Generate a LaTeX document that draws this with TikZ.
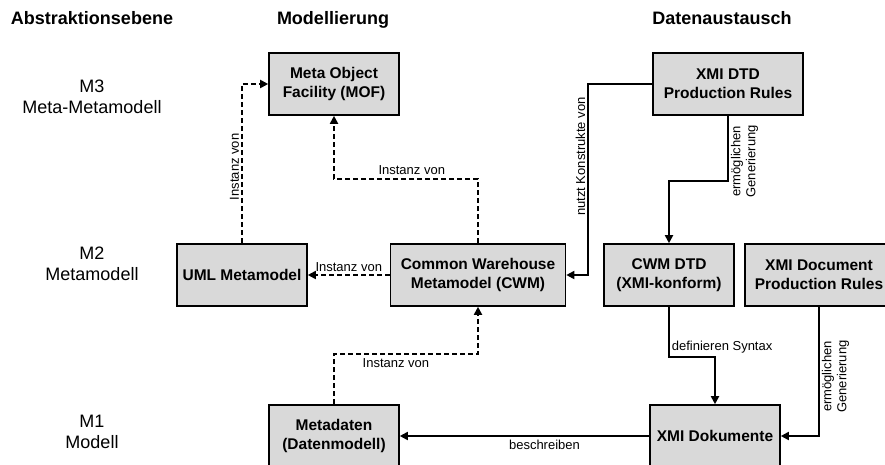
\documentclass[tikz,border=0pt]{standalone}
\usepackage{fontspec}
\setmainfont{Liberation Sans}
\usetikzlibrary{arrows.meta}
\definecolor{boxgray}{RGB}{217,217,217}

\begin{document}
\begin{tikzpicture}[x=1pt,y=-1pt]
    \tikzstyle{every node}=[font=\fontsize{13}{15}\selectfont]
    \tikzstyle{modelbox}=[draw,fill=boxgray,line width=1.6pt,minimum width=130pt,
    minimum height=62pt,inner sep=0pt,align=center,
    font=\fontsize{15.5}{19}\selectfont\bfseries]
    \tikzstyle{heading}=[anchor=base,font=\fontsize{18}{21}\selectfont\bfseries]
    \tikzstyle{level}=[align=center,font=\fontsize{18}{21}\selectfont]
    \tikzstyle{inst}=[line width=1.8pt,dash pattern=on 5pt off 3pt,
    -{Triangle[length=8pt,width=8pt]}]
    \tikzstyle{flow}=[line width=1.8pt,-{Triangle[length=8pt,width=8pt]}]
    \tikzstyle{vlabel}=[rotate=90,align=center,inner sep=2pt]

    \useasboundingbox (0,0) rectangle (885,465);

    \node[heading] (habstr) at (92,25) {Abstraktionsebene};
    \node[heading] (hmodel) at (333,25) {Modellierung};
    \node[heading] (hdaten) at (722,25) {Datenaustausch};

    \node[level] (m3) at (92,97) {M3\\Meta-Metamodell};
    \node[level] (m2) at (92,264) {M2\\Metamodell};
    \node[level] (m1) at (92,432) {M1\\Modell};

    \node[modelbox] (mof) at (334,84) {Meta Object\\Facility (MOF)};
    \node[modelbox,minimum width=150pt] (xdpr) at (728,84)
    {XMI DTD\\Production Rules};
    \node[modelbox] (uml) at (242,275) {UML Metamodel};
    \node[modelbox,minimum width=175pt] (cwm) at (478,275)
    {Common Warehouse\\Metamodel (CWM)};
    \node[modelbox] (cwmdtd) at (669,275) {CWM DTD\\(XMI-konform)};
    \node[modelbox,minimum width=148pt] (xdocpr) at (819,275)
    {XMI Document\\Production Rules};
    \node[modelbox] (meta) at (334,436) {Metadaten\\(Datenmodell)};
    \node[modelbox] (xdok) at (715,436) {XMI Dokumente};

    \draw[inst] (uml.north) |- node[pos=0.24,vlabel,anchor=south] {Instanz von}
    (mof.west);

    \draw[inst] (cwm.north) -- ++(0,-64) -| node[pos=0.23,above] {Instanz von}
    (mof.south);

    \draw[inst] (cwm.west) -- node[above,inner sep=2pt] {Instanz von} (uml.east);

    \draw[inst] (meta.north) -- ++(0,-50) -| node[pos=0.215,below] {Instanz von}
    (cwm.south);

    \draw[flow] (xdpr.west) -- ++(-64,0) |- node[pos=0.19,vlabel,anchor=south]
    {nutzt Konstrukte von} (cwm.east);

    \draw[flow] (xdpr.south) -- node[pos=0.7,vlabel,anchor=north]
    {ermöglichen\\Generierung} ++(0,65) -| (cwmdtd.north);

    \draw[flow] (cwmdtd.south) -- node[pos=0.8,right,inner sep=2pt]
    {definieren Syntax} ++(0,50) -| (xdok.north);

    \draw[flow] (xdocpr.south) |- node[pos=0.27,vlabel,anchor=north]
    {ermöglichen\\Generierung} (xdok.east);

    \draw[flow] (xdok.west) -- node[pos=0.42,below] {beschreiben} (meta.east);

\end{tikzpicture}
\end{document}
